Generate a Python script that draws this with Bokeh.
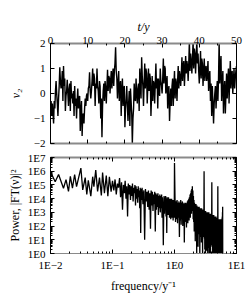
from bokeh.plotting import figure
from bokeh.models import Range1d, LinearAxis, LogAxis, FixedTicker, CustomJSTickFormatter
from bokeh.layouts import column
from bokeh.embed import file_html
from bokeh.resources import INLINE

FONT = "Liberation Serif"

# ---- top panel: time series v2(t), six samples per year ----
v2 = [
    -0.7, -0.3, -0.9, -0.4, -0.8, -1.2,    # 0
    -0.3, -0.6, 0.1, 0.5, 0.0, -0.4,       # 1
    -0.9, -0.2, 0.3, 1.05, 0.5, 0.2,       # 2
    0.4, 0.9, -0.3, 1.1, 0.3, 0.6,         # 3
    -0.7, -0.1, 0.1, 0.55, 0.0, -0.5,      # 4
    0.2, 0.4, -0.7, 0.5, -0.2, 0.0,        # 5
    -0.4, 0.1, -0.9, 0.3, -0.5, -0.2,      # 6
    -1.0, -0.3, 0.2, -0.6, -0.2, -0.1,     # 7
    -1.5, -0.7, -0.3, -1.7, -0.9, -0.8,    # 8
    -1.2, -0.6, -0.2, -0.5, -0.1, 0.0,     # 9
    -0.3, 0.2, 0.3, 0.85, 0.1, -0.2,       # 10
    0.1, 0.5, 1.0, 0.3, 0.8, 0.6,          # 11
    -0.5, 0.4, 0.2, 1.0, 0.3, 0.1,         # 12
    -0.4, 0.5, 0.3, -1.0, -0.2, -1.75,     # 13
    -0.5, 0.1, 0.4, -0.3, 0.5, 0.2,        # 14
    -0.4, 0.3, 0.95, 0.1, 0.7, 0.6,        # 15
    0.0, 0.5, 0.9, 0.2, 0.7, 1.0,          # 16
    0.3, 0.9, 1.2, 1.85, 0.9, 0.6,         # 17
    -0.2, 0.4, 0.9, -0.3, 0.3, 0.5,        # 18
    -0.9, 0.1, 0.6, -0.5, 0.2, 0.3,        # 19
    -1.35, -0.6, -0.2, 0.3, -0.5, -1.1,    # 20
    -0.4, 0.1, -1.3, 0.2, -0.3, -0.8,      # 21
    -2.0, -1.0, -0.6, 0.4, -0.2, -0.3,     # 22
    0.6, 0.0, -0.4, 0.2, 0.4, -0.7,        # 23
    1.0, 0.4, -0.2, 1.45, 0.7, 0.3,        # 24
    -0.5, 0.4, 1.2, 0.2, 1.0, 0.8,         # 25
    -0.4, 0.3, 1.0, 0.1, 0.8, 0.6,         # 26
    -0.9, -0.1, 0.7, -0.3, 0.5, 0.4,       # 27
    -0.4, 0.4, 1.2, 0.2, 0.6, -0.6,        # 28
    0.6, 0.2, -0.1, 1.0, 0.5, 0.3,         # 29
    0.0, 0.6, 1.4, 0.4, 1.1, 1.0,          # 30
    0.0, 0.4, 0.7, -0.6, 0.1, 0.3,         # 31
    -1.1, -0.3, 0.2, -0.5, 0.3, 0.6,       # 32
    -0.5, 0.3, 0.9, -0.2, 0.6, 0.4,        # 33
    -0.3, 0.5, 1.1, 0.2, 0.9, 0.7,         # 34
    0.3, 0.8, 1.45, 0.5, 1.1, 1.3,         # 35
    0.3, 0.9, 1.5, 0.8, 1.3, 1.1,          # 36
    0.5, 1.2, 2.1, 0.9, 1.6, 1.3,          # 37
    0.8, 1.4, 2.1, 1.0, 1.8, 1.6,          # 38
    0.8, 1.5, 2.1, 1.2, 1.6, 0.9,          # 39
    0.4, 1.0, 1.7, 0.6, 1.4, 1.2,          # 40
    0.3, 0.9, 1.4, 0.5, 1.0, 1.1,          # 41
    0.5, 0.8, 1.3, 0.1, 0.6, 0.9,          # 42
    -0.3, 0.4, -0.9, 0.3, -0.4, -1.2,      # 43
    -0.4, 0.0, 0.3, -0.6, 0.1, 0.5,        # 44
    -0.3, 0.6, 2.1, 0.4, 1.0, 1.5,         # 45
    -0.3, 0.4, 0.9, -0.8, 0.1, 0.5,        # 46
    -0.8, 0.0, 0.8, -0.2, 0.5, 1.0,        # 47
    -0.4, 0.6, 1.3, 0.2, 0.8, 0.9,         # 48
    0.0, 0.5, 1.0, 0.2, 0.6, 0.9,          # 49
    1.1,                                   # 50
]
t_years = [i / 6 for i in range(len(v2))]

# ---- bottom panel: power spectrum (log10 of power) ----
freq_low = [0.0100, 0.0119, 0.0135, 0.0162, 0.0178, 0.0195, 0.0209, 0.0226,
            0.0245, 0.0263, 0.0309, 0.0331, 0.0363, 0.0385, 0.0407, 0.0447,
            0.0479, 0.0501, 0.0537, 0.0575, 0.0617, 0.0661, 0.0692, 0.0741,
            0.0794, 0.0841, 0.0891, 0.0950]
logp_low = [5.95, 5.23, 5.76, 4.76, 5.39, 4.53, 5.62, 4.76,
            5.76, 4.88, 6.23, 4.64, 5.53, 4.30, 5.34, 4.18,
            5.60, 4.88, 6.09, 4.53, 5.53, 4.23, 5.90, 4.40,
            5.69, 4.18, 5.60, 4.50]
# 0.100 - 0.295 y^-1, bins of 0.005
logp_a = [
    5.3, 4.6, 5.4, 4.3, 5.1, 4.8, 5.5, 4.1, 5.2, 3.2,
    5.0, 4.4, 5.3, 4.0, 4.9, 2.7, 5.1, 4.3, 5.0, 3.9,
    4.9, 4.2, 5.1, 3.8, 4.8, 4.4, 5.0, 3.5, 4.9, 4.0,
    4.7, 3.7, 4.9, 4.1, 4.6, 3.3, 4.8, 1.5, 4.7, 3.9,
]
# 0.30 - 0.99 y^-1, bins of 0.01
logp_b = [
    4.8, 3.6, 4.6, 1.0, 4.7, 3.8, 4.5, 3.4, 4.6, 3.2,
    4.4, 1.8, 4.6, 3.5, 4.5, 3.1, 4.3, 3.6, 4.5, 1.6,
    4.4, 3.2, 4.3, 3.4, 4.4, 2.8, 4.2, 3.3, 4.3, 3.0,
    4.2, 3.3, 4.3, 2.6, 4.1, 3.2, 0.6, 3.1, 4.2, 2.9,
    4.1, 3.2, 4.2, 2.7, 4.0, 1.5, 4.1, 3.0, 3.9, 2.8,
    4.1, 2.9, 4.0, 2.6, 3.9, 3.0, 4.0, 2.5, 3.9, 2.8,
    4.0, 2.6, 3.9, 2.9, 3.8, 2.4, 3.9, 2.7, 3.8, 2.6,
]
# 1.00 - 6.00 y^-1, bins of 0.02
logp_c = [
    6.6, 3.9, 2.3, 3.8, 2.5,
    3.9, 2.2, 3.7, 2.6, 3.8, 1.2, 3.7, 2.4, 3.9, 2.1,
    3.7, 2.5, 3.8, 2.0, 3.6, 2.6, 3.7, 0.8, 3.6, 2.3,
    3.7, 2.4, 3.6, 1.9, 3.7, 2.5, 3.8, 2.2, 3.9, 2.6,
    4.0, 2.4, 4.1, 2.8, 4.3, 2.6, 4.4, 3.0, 4.6, 2.9,
    4.7, 3.2, 4.9, 3.1, 4.6, 2.5, 4.2, 2.3, 3.9, 1.6,
    3.7, 1.8, 3.6, 0.9, 3.5, 2.0, 3.6, 1.5, 3.4, -0.3,
    3.5, 1.6, 3.4, 1.9, 3.3, 0.5, 3.4, 1.7, 3.3, 1.4,
    3.4, 1.6, 3.2, -0.5, 3.3, 1.8, 3.2, 1.2, 3.3, 1.5,
    3.2, 0.8, 3.3, 1.6, 3.1, 1.3, 3.2, -0.4, 3.1, 1.5,
    3.2, 1.2, 3.1, 1.4, 3.0, 6.0, 3.1, 1.1, 3.0, 0.3,
    3.1, 1.3, 3.0, -0.6, 3.1, 1.2, 2.9, 0.9, 3.0, 1.4,
    2.9, 0.2, 3.0, 1.1, 2.9, 1.3, 3.0, -0.5, 2.9, 1.0,
    2.9, 1.2, 2.8, 0.4, 3.0, 1.1, 2.8, -0.8, 2.9, 1.3,
    2.8, 0.9, 2.9, 1.2, 2.8, -0.3, 2.9, 1.0, 2.8, 0.6,
    2.9, 1.1, 2.8, 0.8, 2.8, 5.2, 2.9, 0.5, 2.8, 1.2,
    2.7, -0.6, 2.8, 1.0, 2.7, 0.7, 2.8, 1.1, 2.7, -0.2,
    2.8, 0.9, 2.7, 1.1, 2.6, 0.3, 2.7, 1.0, 2.6, -0.7,
    2.7, 0.8, 2.6, 1.0, 2.7, 0.4, 2.6, -0.4, 2.7, 0.9,
    2.6, 1.0, 2.5, 0.2, 2.6, 0.9, 2.5, -0.6, 2.6, 0.8,
    2.5, 0.6, 2.6, 0.9, 2.5, 4.9, 2.6, 0.4, 2.5, -0.5,
    2.5, 0.8, 2.4, 0.5, 2.5, -0.3, 2.4, 0.9, 2.5, 0.6,
    2.4, -0.8, 2.5, 0.7, 2.4, 0.3, 2.5, 0.8, 2.4, -0.2,
    2.4, 0.6, 2.5, 0.2, 2.4, 0.8, 2.3, -0.5, 2.4, 0.7,
    2.4, 0.4, 2.5, 0.9, 2.4, -0.6, 2.5, 0.5, 2.6, 0.8,
    2.7, 0.3, 3.0, -0.4, 3.4, -1.0,
]
freq_a = [round(0.100 + 0.005 * i, 3) for i in range(len(logp_a))]
freq_b = [round(0.30 + 0.01 * i, 2) for i in range(len(logp_b))]
freq_c = [round(1.00 + 0.02 * i, 2) for i in range(len(logp_c))]

freq = freq_low + freq_a + freq_b + freq_c
power = [10 ** v for v in logp_low + logp_a + logp_b + logp_c]

t_ticks = [0, 10, 20, 30, 40, 50]
t_minor = [5, 15, 25, 35, 45]
v_ticks = [-2, -1, 0, 1, 2]
f_ticks = [0.01, 0.1, 1, 10]
p_ticks = [1, 10, 100, 1e3, 1e4, 1e5, 1e6, 1e7]

GRAY = "#8a8a8a"
neg_fmt = CustomJSTickFormatter(code="return tick < 0 ? '\u2212' + Math.abs(tick) : String(tick);")
exp_fmt = CustomJSTickFormatter(code="const e = Math.round(Math.log10(tick)); return '1E' + (e < 0 ? '\u2212' + (-e) : String(e));")
blank_fmt = CustomJSTickFormatter(code="return '';")


def style_axis(ax, labels=True, size="11px"):
    ax.major_label_text_font = FONT
    ax.major_label_text_font_size = size if labels else "0px"
    ax.major_label_text_color = "black"
    ax.axis_label_text_font = FONT
    ax.axis_label_text_font_size = "12px"
    ax.axis_label_text_font_style = "normal"
    ax.axis_label_text_color = "black"
    ax.major_tick_in = 4
    ax.major_tick_out = 0
    ax.minor_tick_in = 2
    ax.minor_tick_out = 0
    ax.major_tick_line_color = "black"
    ax.minor_tick_line_color = "black"
    if not labels:
        ax.major_label_standoff = 0
        ax.formatter = blank_fmt


# ---------------- top figure ----------------
p1 = figure(width=249, height=150, x_range=Range1d(0, 50), y_range=Range1d(-2, 2),
            x_axis_location="above", output_backend="svg", toolbar_location=None,
            min_border_left=50, min_border_right=13, min_border_top=43, min_border_bottom=7)
p1.line(t_years, v2, line_color="black", line_width=1.4)
p1.grid.visible = False
p1.outline_line_color = "black"
p1.background_fill_color = "white"
p1.border_fill_color = "white"

ax = p1.xaxis[0]
ax.ticker = FixedTicker(ticks=t_ticks, minor_ticks=t_minor)
ax.axis_label = "t/y"
style_axis(ax)
ax.axis_label_text_font_style = "italic"
ax.major_label_standoff = 0
ax.axis_label_standoff = 0
ax.axis_line_color = GRAY
ax.axis_line_width = 2

ay = p1.yaxis[0]
ay.ticker = FixedTicker(ticks=v_ticks)
ay.formatter = neg_fmt
ay.axis_label = "v\u2082"
style_axis(ay)
ay.axis_label_text_font_style = "italic"
ay.major_label_standoff = 5
ay.axis_label_standoff = 8

bx = LinearAxis(ticker=FixedTicker(ticks=t_ticks, minor_ticks=t_minor))
style_axis(bx, labels=False)
bx.axis_line_color = GRAY
bx.axis_line_width = 2
p1.add_layout(bx, "below")

ry = LinearAxis(ticker=FixedTicker(ticks=v_ticks))
style_axis(ry, labels=False)
p1.add_layout(ry, "right")

# ---------------- bottom figure ----------------
p2 = figure(width=249, height=145, x_axis_type="log", y_axis_type="log",
            x_range=Range1d(0.01, 10), y_range=Range1d(1, 1e7),
            output_backend="svg", toolbar_location=None,
            min_border_left=50, min_border_right=13, min_border_top=7, min_border_bottom=38)
p2.line(freq, power, line_color="black", line_width=1.3)
p2.grid.visible = False
p2.outline_line_color = "black"
p2.background_fill_color = "white"
p2.border_fill_color = "white"

f_minor = [m * 10 ** e for e in range(-2, 1) for m in range(2, 10)]
p_minor = [m * 10 ** e for e in range(0, 7) for m in range(2, 10)]

ax2 = p2.xaxis[0]
ax2.ticker = FixedTicker(ticks=f_ticks, minor_ticks=f_minor)
ax2.formatter = exp_fmt
ax2.axis_label = "frequency/y\u207b\u00b9"
style_axis(ax2)
ax2.major_label_standoff = 5
ax2.axis_label_standoff = 5
ax2.axis_line_color = GRAY

ay2 = p2.yaxis[0]
ay2.ticker = FixedTicker(ticks=p_ticks, minor_ticks=p_minor)
ay2.formatter = exp_fmt
ay2.axis_label = "Power, |FT(\u03bd)|\u00b2"
style_axis(ay2)
ay2.major_label_standoff = 5
ay2.axis_label_standoff = 3

tx2 = LogAxis(ticker=FixedTicker(ticks=f_ticks, minor_ticks=f_minor))
style_axis(tx2, labels=False)
tx2.axis_line_color = GRAY
tx2.axis_line_width = 2
p2.add_layout(tx2, "above")

ry2 = LogAxis(ticker=FixedTicker(ticks=p_ticks, minor_ticks=p_minor))
style_axis(ry2, labels=False)
p2.add_layout(ry2, "right")

layout = column(p1, p2, spacing=0)
open("out.html", "w").write(file_html(layout, INLINE))
